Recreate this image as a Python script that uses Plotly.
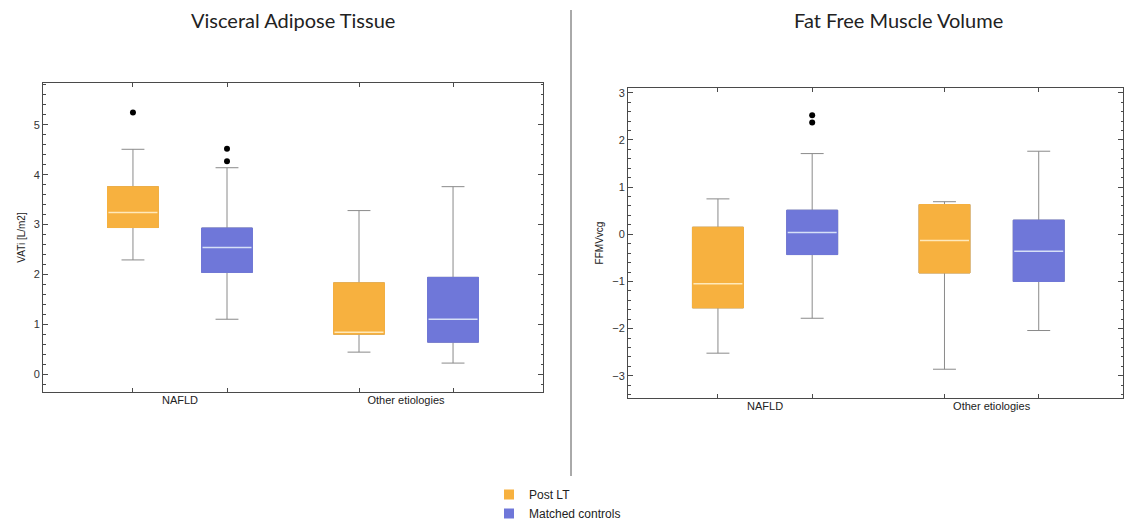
import plotly.graph_objects as go

# ---------------- data ----------------
categories = ["NAFLD", "Other etiologies"]
series = ["Post LT", "Matched controls"]

# Visceral Adipose Tissue (VATi [L/m2])
vat_post_low = [2.29, 0.44]
vat_post_q1 = [2.94, 0.80]
vat_post_med = [3.24, 0.84]
vat_post_q3 = [3.76, 1.83]
vat_post_high = [4.51, 3.28]
vat_post_out = [[5.25], []]

vat_ctrl_low = [1.10, 0.22]
vat_ctrl_q1 = [2.04, 0.64]
vat_ctrl_med = [2.54, 1.10]
vat_ctrl_q3 = [2.93, 1.94]
vat_ctrl_high = [4.14, 3.76]
vat_ctrl_out = [[4.52, 4.27], []]

# Fat Free Muscle Volume (FFMVvcg)
ffm_post_low = [-2.52, -2.86]
ffm_post_q1 = [-1.56, -0.82]
ffm_post_med = [-1.05, -0.13]
ffm_post_q3 = [0.15, 0.63]
ffm_post_high = [0.75, 0.69]
ffm_post_out = [[], []]

ffm_ctrl_low = [-1.78, -2.04]
ffm_ctrl_q1 = [-0.43, -1.00]
ffm_ctrl_med = [0.04, -0.36]
ffm_ctrl_q3 = [0.51, 0.30]
ffm_ctrl_high = [1.71, 1.76]
ffm_ctrl_out = [[2.52, 2.37], []]

# ---------------- style ----------------
ORANGE = "#F7B13F"
BLUE = "#6F77D9"
WHISK = "#8a8a8a"
FRAME = "#4a4a4a"
OFFSET = 0.208
BOXW = 0.225
TICKFONT = dict(family="Liberation Sans, Arial", size=11, color="#333")

fig = go.Figure()


def add_group(xa, ya, low, q1, med, q3, high, outs, color, sign, med_color):
    xs = [i + sign * OFFSET for i in range(len(categories))]
    # whiskers
    fig.add_trace(go.Box(
        x=xs, q1=q1, median=med, q3=q3, lowerfence=low, upperfence=high,
        width=BOXW, whiskerwidth=0.45, fillcolor=color,
        line=dict(color=WHISK, width=1), boxpoints=False,
        xaxis=xa, yaxis=ya, showlegend=False, hoverinfo="skip"))
    # box body
    fig.add_trace(go.Box(
        x=xs, q1=q1, median=q3, q3=q3, lowerfence=q1, upperfence=q3,
        width=BOXW, whiskerwidth=0, fillcolor=color,
        line=dict(color=color, width=1), boxpoints=False,
        xaxis=xa, yaxis=ya, showlegend=False, hoverinfo="skip"))
    # median line
    fig.add_trace(go.Scatter(
        x=xs, y=med, mode="markers",
        marker=dict(symbol="line-ew", size=35,
                    line=dict(color=med_color, width=1.5)),
        xaxis=xa, yaxis=ya, showlegend=False, hoverinfo="skip"))
    # outliers
    ox, oy = [], []
    for i, vals in enumerate(outs):
        for v in vals:
            ox.append(xs[i])
            oy.append(v)
    if ox:
        fig.add_trace(go.Scatter(
            x=ox, y=oy, mode="markers",
            marker=dict(color="black", size=6),
            xaxis=xa, yaxis=ya, showlegend=False, hoverinfo="skip"))


add_group("x", "y", vat_post_low, vat_post_q1, vat_post_med, vat_post_q3,
          vat_post_high, vat_post_out, ORANGE, -1, "rgba(255,240,200,0.9)")
add_group("x", "y", vat_ctrl_low, vat_ctrl_q1, vat_ctrl_med, vat_ctrl_q3,
          vat_ctrl_high, vat_ctrl_out, BLUE, 1, "rgba(225,235,250,0.9)")
add_group("x2", "y2", ffm_post_low, ffm_post_q1, ffm_post_med, ffm_post_q3,
          ffm_post_high, ffm_post_out, ORANGE, -1, "rgba(255,240,200,0.9)")
add_group("x2", "y2", ffm_ctrl_low, ffm_ctrl_q1, ffm_ctrl_med, ffm_ctrl_q3,
          ffm_ctrl_high, ffm_ctrl_out, BLUE, 1, "rgba(225,235,250,0.9)")

# legend entries
for name, color in zip(series, [ORANGE, BLUE]):
    fig.add_trace(go.Scatter(
        x=[None], y=[None], mode="markers", name=name,
        marker=dict(symbol="square", size=10, color=color)))

box_ticks = sorted([i + s * OFFSET for i in range(len(categories)) for s in (-1, 1)])

xa_common = dict(
    showline=True, linecolor=FRAME, linewidth=1, mirror="ticks",
    ticks="inside", ticklen=4, tickcolor=FRAME, tickvals=box_ticks,
    showticklabels=False, showgrid=False, zeroline=False, automargin=False)
ya_common = dict(
    showline=True, linecolor=FRAME, linewidth=1, mirror="ticks",
    ticks="inside", ticklen=5, tickcolor=FRAME, dtick=1, automargin=False,
    showgrid=False, zeroline=False, tickfont=TICKFONT,
    minor=dict(ticks="inside", ticklen=2.5, dtick=0.2, tickcolor=FRAME,
               showgrid=False),
    title=dict(font=dict(family="Liberation Sans, Arial", size=10, color="#222"),
               standoff=6))

L_DOM = [43 / 1127, 543 / 1127]
R_DOM = [628 / 1127, 1123 / 1127]
L_Y = [1 - 392 / 521, 1 - 83 / 521]
R_Y = [1 - 398 / 521, 1 - 88 / 521]
L_XR = [-0.606, 1.606]
R_XR = [-0.605, 1.58]

cat_axis = dict(
    tickvals=list(range(len(categories))), ticktext=categories, ticks="",
    showline=False, showgrid=False, zeroline=False, automargin=False,
    tickfont=dict(family="Liberation Sans, Arial", size=11, color="#222"))

fig.update_layout(
    width=1127, height=521,
    margin=dict(l=0, r=0, t=0, b=0, autoexpand=False),
    paper_bgcolor="white", plot_bgcolor="white",
    xaxis=dict(domain=L_DOM, range=L_XR, anchor="y", **xa_common),
    yaxis=dict(domain=L_Y, range=[-0.36, 5.84], anchor="x",
               **{**ya_common, "title": {**ya_common["title"], "text": "VATi [L/m2]"}}),
    xaxis2=dict(domain=R_DOM, range=R_XR, anchor="y2", **xa_common),
    yaxis2=dict(domain=R_Y, range=[-3.47, 3.1], anchor="x2",
                **{**ya_common, "title": {**ya_common["title"], "text": "FFMVvcg"}}),
    xaxis3=dict(overlaying="x", range=L_XR, anchor="y", side="bottom", **cat_axis),
    xaxis4=dict(overlaying="x2", range=R_XR, anchor="y2", side="bottom", **cat_axis),
    legend=dict(x=489 / 1127, y=1 - 480 / 521, xanchor="left", yanchor="top",
                font=dict(family="Liberation Sans, Arial", size=12, color="#222"),
                tracegroupgap=0, itemwidth=30, bgcolor="rgba(0,0,0,0)"),
    showlegend=True,
)

# dummy traces so overlay category axes render
fig.add_trace(go.Scatter(x=[None], y=[None], xaxis="x3", yaxis="y", showlegend=False))
fig.add_trace(go.Scatter(x=[None], y=[None], xaxis="x4", yaxis="y2", showlegend=False))

# titles
fig.add_annotation(text="Visceral Adipose Tissue", xref="paper", yref="paper",
                   x=293 / 1127, y=1 - 20 / 521, showarrow=False,
                   xanchor="center", yanchor="middle",
                   font=dict(family="Lato", size=20, color="#222"))
fig.add_annotation(text="Fat Free Muscle Volume", xref="paper", yref="paper",
                   x=898 / 1127, y=1 - 20 / 521, showarrow=False,
                   xanchor="center", yanchor="middle",
                   font=dict(family="Lato", size=20, color="#222"))

# divider line
fig.add_shape(type="line", xref="paper", yref="paper",
              x0=571 / 1127, x1=571 / 1127, y0=1 - 476 / 521, y1=1 - 10 / 521,
              line=dict(color="#555", width=1))

fig.write_html("out.html",
               config={"displayModeBar": False},
               post_script="document.body.style.margin='0';"
                           "document.body.style.overflow='hidden';")
